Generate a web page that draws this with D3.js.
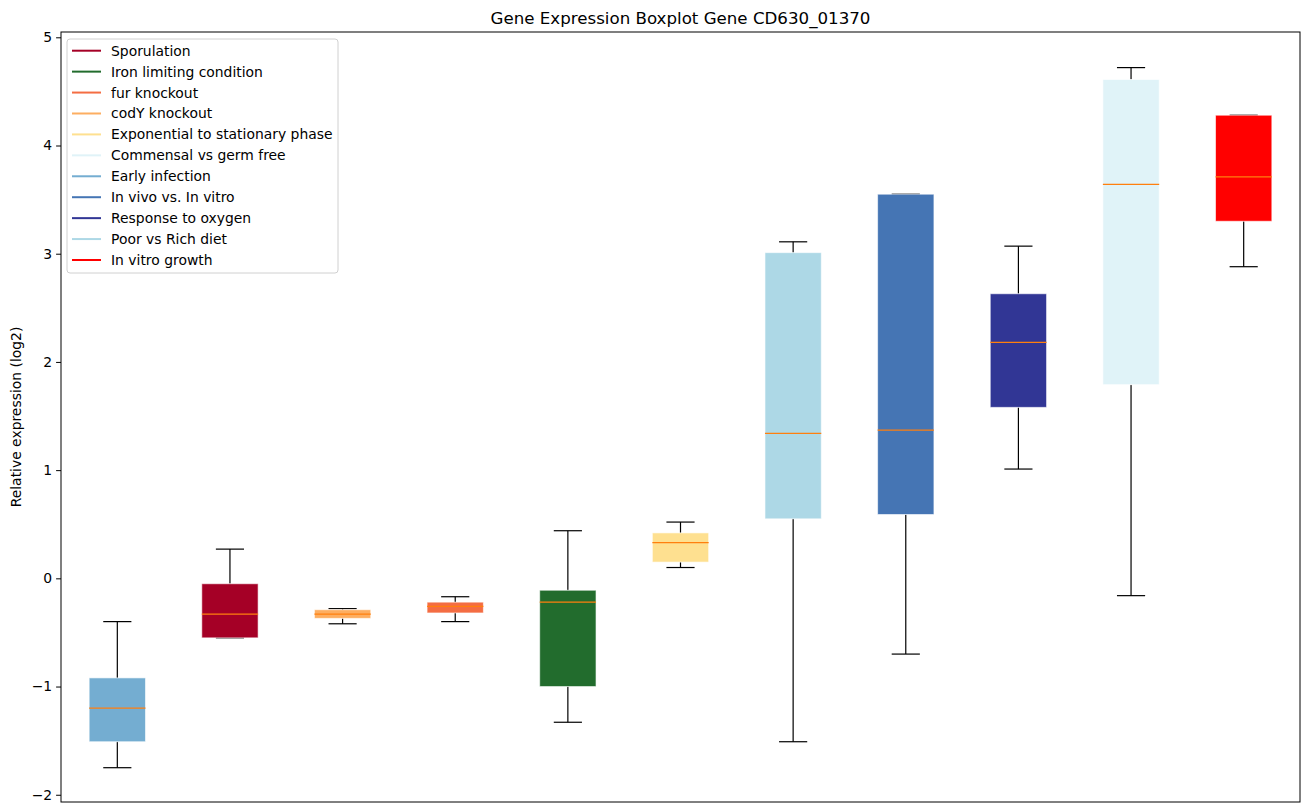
<!DOCTYPE html>
<html>
<head>
<meta charset="utf-8">
<script src="https://cdn.jsdelivr.net/npm/d3@7"></script>
<style>
  body { margin: 0; background: #fff; }
  svg { font-family: "DejaVu Sans", sans-serif; }
</style>
</head>
<body>
<svg id="chart" width="1309" height="812"></svg>
<script>
"use strict";

// ===== Data (boxes in plotted order) =====
const categories = [
  "Early infection", "Sporulation", "codY knockout", "fur knockout",
  "Iron limiting condition", "Exponential to stationary phase",
  "Poor vs Rich diet", "In vivo vs. In vitro", "Response to oxygen",
  "Commensal vs germ free", "In vitro growth"
];
const whiskerLow  = [-1.75, -0.55, -0.42, -0.40, -1.33, 0.10, -1.51, -0.70, 1.01, -0.16, 2.88];
const q1          = [-1.51, -0.55, -0.37, -0.32, -1.00, 0.15,  0.55,  0.59, 1.58,  1.79, 3.30];
const medians     = [-1.20, -0.33, -0.33, -0.26, -0.22, 0.33,  1.34,  1.37, 2.18,  3.64, 3.71];
const q3          = [-0.92, -0.05, -0.29, -0.22, -0.11, 0.42,  3.01,  3.55, 2.63,  4.61, 4.28];
const whiskerHigh = [-0.40,  0.27, -0.28, -0.17,  0.44, 0.52,  3.11,  3.55, 3.07,  4.72, 4.28];
const boxColors   = ["#74add1", "#a50026", "#fdae61", "#f46d43", "#226c2d", "#fee090",
                     "#add8e6", "#4575b4", "#313695", "#e0f3f8", "#ff0000"];

// legend order
const legendLabels = [
  "Sporulation", "Iron limiting condition", "fur knockout", "codY knockout",
  "Exponential to stationary phase", "Commensal vs germ free", "Early infection",
  "In vivo vs. In vitro", "Response to oxygen", "Poor vs Rich diet", "In vitro growth"
];
const yTicks = [-2, -1, 0, 1, 2, 3, 4, 5];

// ===== Layout =====
const margin = { left: 61, right: 1300, top: 32, bottom: 802 };
const svg = d3.select("#chart");

const x = d3.scaleLinear().domain([0.5, 11.5]).range([margin.left, margin.right]);
const y = d3.scaleLinear().domain([-2.067, 5.049]).range([margin.bottom, margin.top]);

const colorOf = {};
categories.forEach((c, i) => colorOf[c] = boxColors[i]);

const boxes = categories.map((c, i) => ({
  name: c, pos: i + 1, lo: whiskerLow[i], q1: q1[i], med: medians[i],
  q3: q3[i], hi: whiskerHigh[i], color: boxColors[i]
}));

const boxW = x(1.25) - x(1);   // half width in px (box width 0.5)
const capW = boxW / 2;

// ===== Boxes =====
const gBox = svg.append("g");
boxes.forEach(d => {
  const cx = x(d.pos);
  const g = gBox.append("g");
  // whiskers
  g.append("line").attr("x1", cx).attr("x2", cx).attr("y1", y(d.q3)).attr("y2", y(d.hi))
    .attr("stroke", "#000").attr("stroke-width", 1.2);
  g.append("line").attr("x1", cx).attr("x2", cx).attr("y1", y(d.q1)).attr("y2", y(d.lo))
    .attr("stroke", "#000").attr("stroke-width", 1.2);
  // caps
  [d.hi, d.lo].forEach(v => {
    g.append("line").attr("x1", cx - capW).attr("x2", cx + capW)
      .attr("y1", y(v)).attr("y2", y(v))
      .attr("stroke", "#000").attr("stroke-width", 1.2);
  });
  // box
  g.append("rect")
    .attr("x", cx - boxW).attr("width", boxW * 2)
    .attr("y", y(d.q3)).attr("height", Math.max(1, y(d.q1) - y(d.q3)))
    .attr("fill", d.color)
    .attr("stroke", "#ffffff").attr("stroke-opacity", 0.6).attr("stroke-width", 1);
  // median
  g.append("line").attr("x1", cx - boxW).attr("x2", cx + boxW)
    .attr("y1", y(d.med)).attr("y2", y(d.med))
    .attr("stroke", "#ff7f0e").attr("stroke-width", 1.2);
});

// ===== Axes =====
const yAxis = d3.axisLeft(y).tickValues(yTicks).tickSize(4.9).tickPadding(4)
  .tickFormat(d => d < 0 ? "\u2212" + Math.abs(d) : d);
const gy = svg.append("g").attr("transform", `translate(${margin.left},0)`).call(yAxis);
gy.select(".domain").remove();
gy.selectAll(".tick line").attr("stroke", "#000").attr("stroke-width", 1);
gy.selectAll(".tick text").attr("fill", "#000").style("font-size", "13.9px")
  .style("font-family", "DejaVu Sans");

// frame
svg.append("rect")
  .attr("x", margin.left).attr("y", margin.top)
  .attr("width", margin.right - margin.left).attr("height", margin.bottom - margin.top)
  .attr("fill", "none").attr("stroke", "#000").attr("stroke-width", 1);

// title
svg.append("text")
  .attr("x", (margin.left + margin.right) / 2).attr("y", 24)
  .attr("text-anchor", "middle").style("font-size", "16.67px")
  .text("Gene Expression Boxplot Gene CD630_01370");

// y label
svg.append("text")
  .attr("transform", `translate(21,${(margin.top + margin.bottom) / 2}) rotate(-90)`)
  .attr("text-anchor", "middle").style("font-size", "13.9px")
  .text("Relative expression (log2)");

// ===== Legend =====
const leg = svg.append("g");
leg.append("rect")
  .attr("x", 67).attr("y", 39).attr("width", 271).attr("height", 234)
  .attr("rx", 3).attr("fill", "#fff").attr("fill-opacity", 0.8)
  .attr("stroke", "#d0d0d0").attr("stroke-width", 1);

const rowH = 20.93;
legendLabels.forEach((label, i) => {
  const cy = 50.7 + i * rowH;
  leg.append("line").attr("x1", 72).attr("x2", 101).attr("y1", cy).attr("y2", cy)
    .attr("stroke", colorOf[label]).attr("stroke-width", 2);
  leg.append("text").attr("x", 111).attr("y", cy).attr("dy", "0.36em")
    .style("font-size", "13.9px").text(label);
});
</script>
</body>
</html>
